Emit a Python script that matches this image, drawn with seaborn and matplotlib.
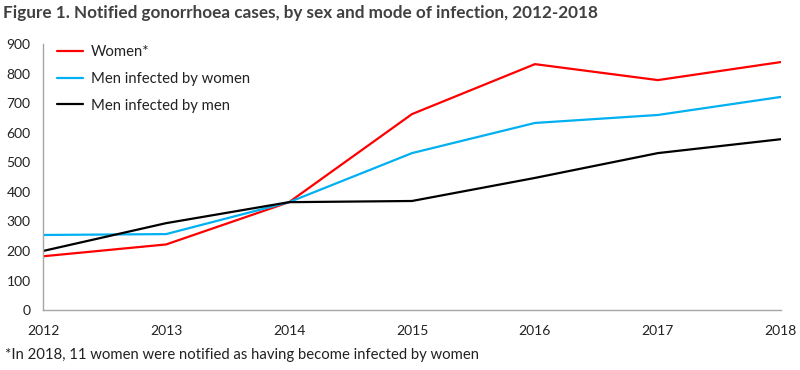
import matplotlib
matplotlib.use("Agg")
import matplotlib.pyplot as plt
import seaborn as sns
import pandas as pd

years = [2012, 2013, 2014, 2015, 2016, 2017, 2018]
women = [182, 222, 365, 663, 832, 778, 839]
men_by_women = [254, 257, 365, 531, 633, 660, 721]
men_by_men = [200, 294, 365, 369, 447, 531, 578]
series_names = ["Women*", "Men infected by women", "Men infected by men"]
colors = ["#FF0000", "#00B0F0", "#000000"]
y_ticks = list(range(0, 1000, 100))

sns.set_theme(style="white")
plt.rcParams['font.family'] = ['Lato', 'DejaVu Sans']

df = pd.DataFrame({
    "year": years * 3,
    "value": women + men_by_women + men_by_men,
    "series": [series_names[0]] * 7 + [series_names[1]] * 7 + [series_names[2]] * 7,
})

fig = plt.figure(figsize=(8, 3.7), dpi=100)
ax = fig.add_axes([0.054, 0.162, 0.922, 0.719])
sns.lineplot(data=df, x="year", y="value", hue="series", palette=colors,
             hue_order=series_names, linewidth=1.6, ax=ax, legend=True)

ax.set_xlim(2012, 2018)
ax.set_ylim(0, 900)
ax.set_xticks(years)
ax.set_xticklabels([str(y) for y in years])
ax.set_yticks(y_ticks)
ax.set_xlabel("")
ax.set_ylabel("")
for s in ["top", "right"]:
    ax.spines[s].set_visible(False)
for s in ["left", "bottom"]:
    ax.spines[s].set_color("#A6A6A6")
    ax.spines[s].set_linewidth(1.0)
ax.tick_params(axis="both", which="both", direction="out", length=5, width=1,
               color="#A6A6A6", labelsize=10, labelcolor="#222222")
ax.tick_params(axis="x", pad=6)
ax.tick_params(axis="y", pad=4)

leg = ax.legend(loc="upper left", bbox_to_anchor=(0.0, 1.045), frameon=False,
                fontsize=10.7, handlelength=1.8, labelspacing=0.85, handletextpad=0.5)
for t in leg.get_texts():
    t.set_color("#222222")

fig.text(0.004, 0.965, "Figure 1. Notified gonorrhoea cases, by sex and mode of infection, 2012-2018",
         fontsize=12.3, fontweight="bold", color="#404040", ha="left", va="center")
fig.text(0.006, 0.04, "*In 2018, 11 women were notified as having become infected by women",
         fontsize=10.7, color="#222222", ha="left", va="center")

fig.savefig("out.png", dpi=100)
